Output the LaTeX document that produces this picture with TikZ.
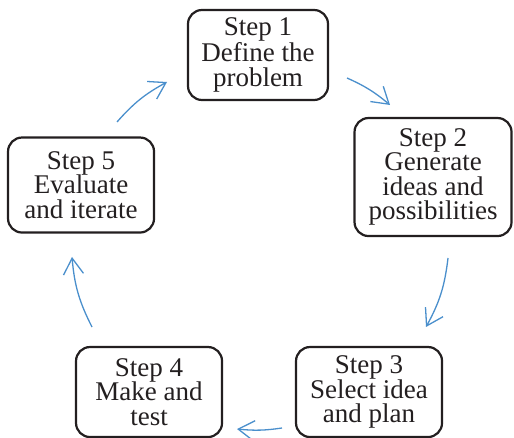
\documentclass[tikz,border=0pt]{standalone}
\usepackage{fontspec}
\setmainfont{Liberation Serif}
\usepackage{tikz}
\usetikzlibrary{arrows.meta}
\definecolor{flowblue}{RGB}{74,143,204}
\definecolor{inkgray}{RGB}{35,31,32}

\tikzset{
  stepbox/.style={draw=inkgray,text=inkgray,line width=2.2pt,rounded corners=14pt,
    minimum width=146pt,minimum height=90pt,inner sep=0pt,align=center,
    font=\fontsize{27}{24.5}\selectfont},
  flow/.style={draw=flowblue,line width=1.3pt}
}

\begin{document}
\begin{tikzpicture}[x=1pt,y=-1pt,->,>={Straight Barb[length=16pt,width=20pt]},node distance=215pt]
  \useasboundingbox (0,0) rectangle (514,438);

  \node[stepbox,minimum width=140pt] (s1) at (258,55) {Step 1\\Define the\\problem};
  \node[stepbox,minimum width=157pt,minimum height=118pt] (s2) [below right of=s1,xshift=23pt,yshift=30pt] {Step 2\\Generate\\ideas and\\possibilities};
  \node[stepbox] (s3) [below of=s2,xshift=-64pt] {Step 3\\Select idea\\and plan};
  \node[stepbox] (s4) [left of=s3,xshift=-5pt] {Step 4\\Make and\\test};
  \node[stepbox,minimum height=95pt] (s5) [above of=s4,xshift=-68pt,yshift=-8pt] {Step 5\\Evaluate\\and iterate};

  % free ends of the arrows around the cycle
  \coordinate (out1) at (347,78);  \coordinate (in2) at (390,105);
  \coordinate (out2) at (448,258); \coordinate (in3) at (426,327);
  \coordinate (out3) at (282,428); \coordinate (in4) at (237,429);
  \coordinate (out4) at (92,327);  \coordinate (in5) at (72,257);
  \coordinate (out5) at (117,122); \coordinate (in1) at (167,82);

  \path
    (out1) edge [flow,bend left=8] (in2)
    (out2) edge [flow,bend left=11] (in3)
    (out3) edge [flow,bend left=7] (in4)
    (out4) edge [flow,bend left=11] (in5)
    (out5) edge [flow,bend left=10] (in1);
\end{tikzpicture}
\end{document}
